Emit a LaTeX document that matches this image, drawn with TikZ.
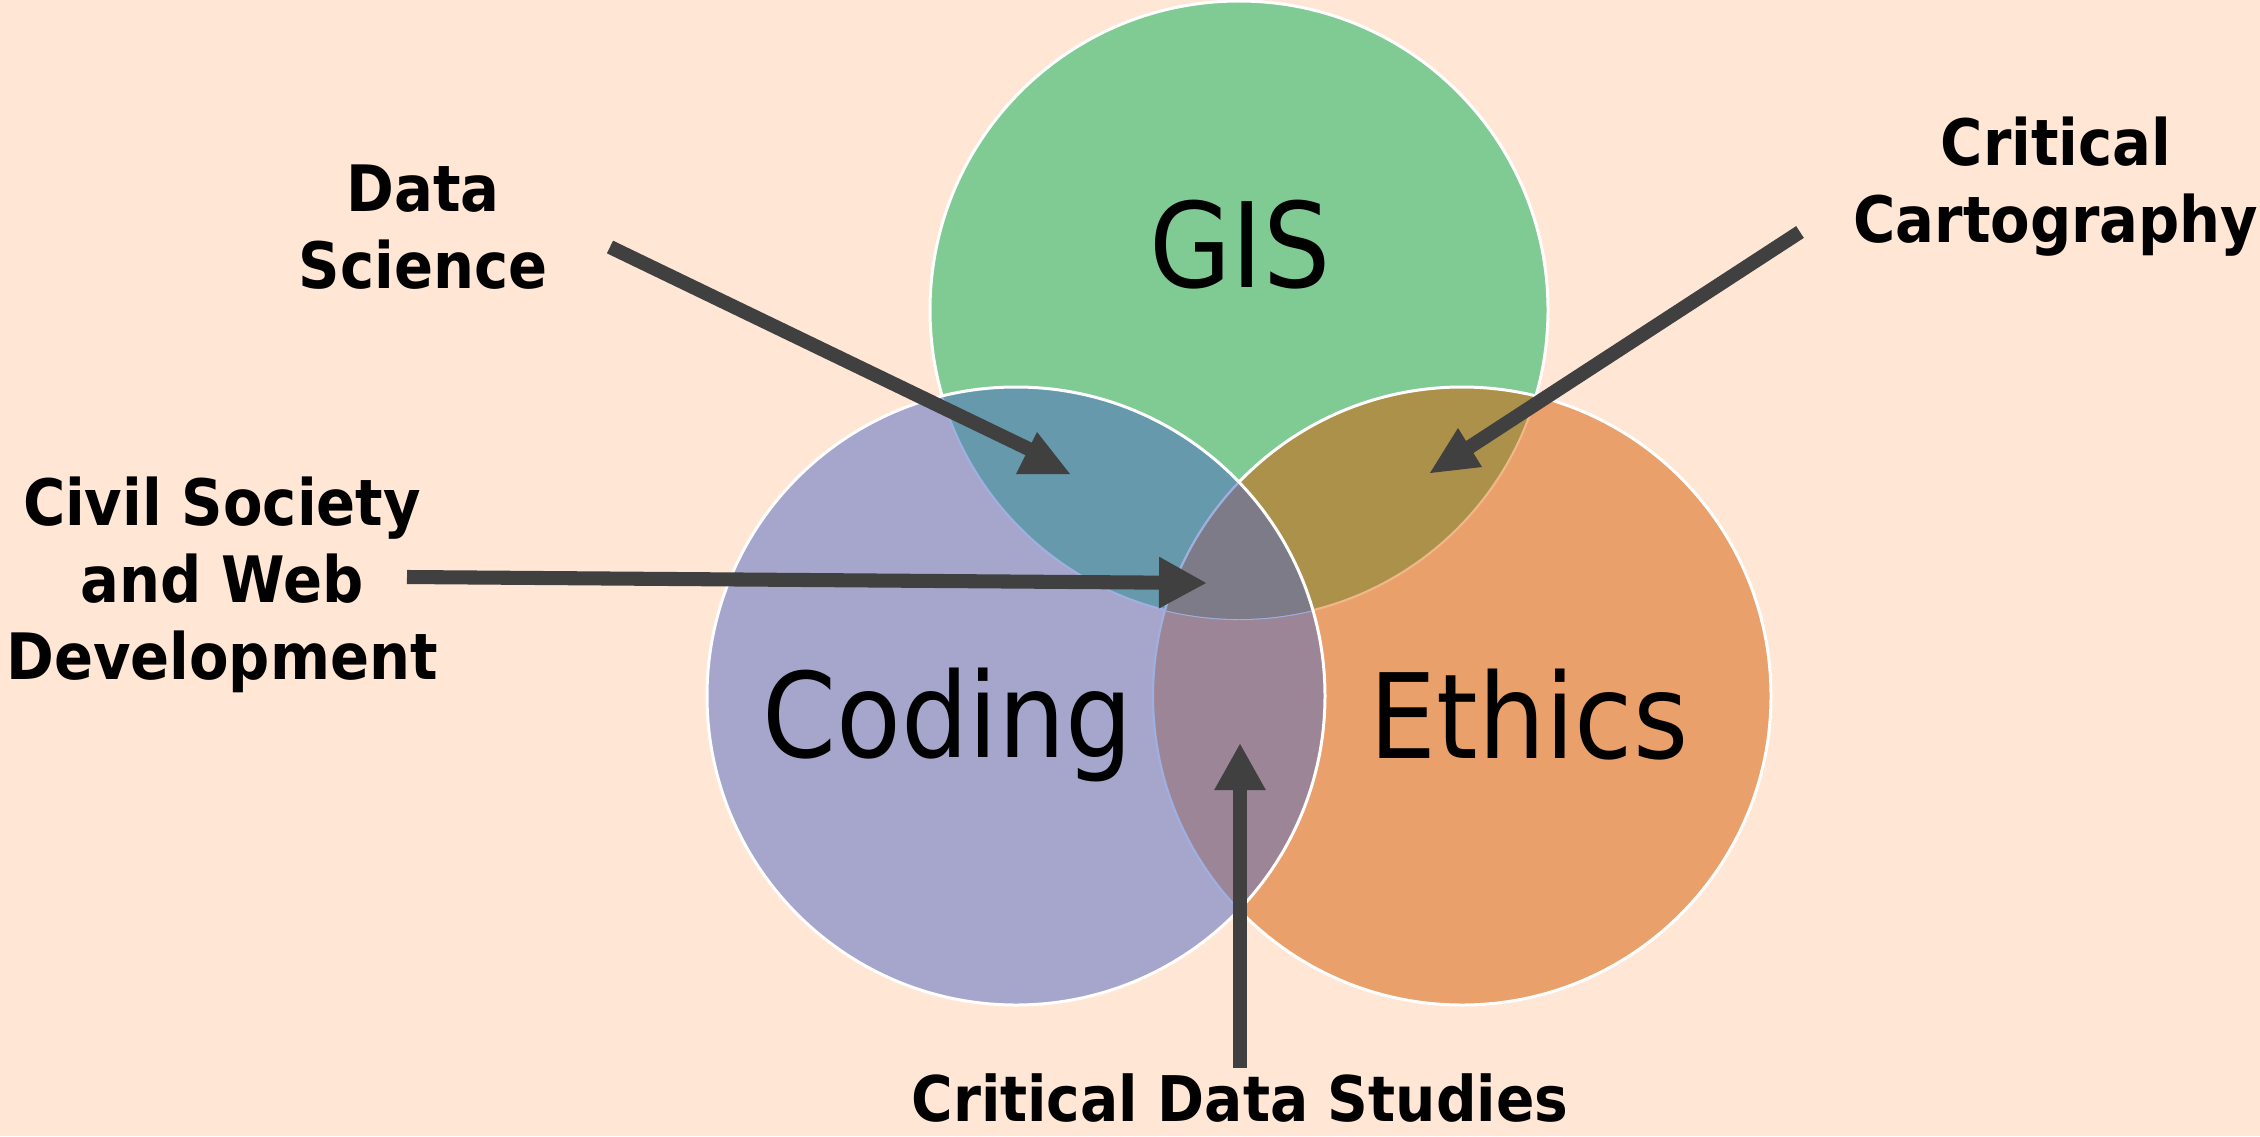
\documentclass[tikz,border=0pt]{standalone}
\usepackage{fontspec}
\setmainfont{DejaVu Sans Condensed}
\usetikzlibrary{arrows.meta}
\definecolor{bgpeach}{HTML}{FFE6D5}
\definecolor{gisgreen}{HTML}{80CB93}
\definecolor{codingblue}{HTML}{A6A6CC}
\definecolor{ethicsorange}{HTML}{EAA06A}
\definecolor{giscoding}{HTML}{6699AC}
\definecolor{gisethics}{HTML}{AC914A}
\definecolor{codingethics}{HTML}{9D8598}
\definecolor{allthree}{HTML}{7D7B87}
\definecolor{arrowgrey}{HTML}{404040}
\definecolor{faintblue}{HTML}{9FB0E0}
\definecolor{faintorange}{HTML}{F0B888}

\newcommand{\gisdisc}{(1239,310) circle[radius=309]}
\newcommand{\codingdisc}{(1016,696) circle[radius=309]}
\newcommand{\ethicsdisc}{(1462,696) circle[radius=309]}

\begin{document}
\begin{tikzpicture}[x=0.01cm, y=-0.01cm,
    venn/.style={draw=white, line width=0.85pt},
    faint/.style={line width=0.6pt},
    shaft/.style={draw=arrowgrey, line width=4pt},
    headfill/.style={fill=arrowgrey},
    topic/.style={font=\fontsize{33.5pt}{40pt}\selectfont, inner sep=0pt},
    field/.style={font=\fontsize{18.2pt}{21.9pt}\selectfont\bfseries, align=center, inner sep=0pt}]
	\fill[bgpeach] (0,0) rectangle (2260,1136);
	\useasboundingbox (0,0) rectangle (2260,1136);

	% the three sets
	\fill[gisgreen] \gisdisc;
	\draw[venn] \gisdisc;
	\fill[ethicsorange] \ethicsdisc;
	\begin{scope}
		\clip \gisdisc;
		\fill[gisethics] \ethicsdisc;
	\end{scope}
	\begin{scope}
		\clip \ethicsdisc;
		\draw[faint, faintorange] \gisdisc;
	\end{scope}
	\draw[venn] \ethicsdisc;
	\fill[codingblue] \codingdisc;
	\begin{scope}
		\clip \codingdisc;
		\fill[giscoding] \gisdisc;
		\fill[codingethics] \ethicsdisc;
		\draw[faint, faintblue] \gisdisc \ethicsdisc;
		\clip \gisdisc;
		\fill[allthree] \ethicsdisc;
	\end{scope}
	\begin{scope}
		\clip \codingdisc;
		\clip \gisdisc;
		\draw[faint, faintblue] \ethicsdisc;
	\end{scope}
	\draw[venn] \codingdisc;

	\node[topic, anchor=base] (gis) at (1240,287) {GIS};
	\node[topic, anchor=base] (coding) at (948,757) {Coding};
	\node[topic, anchor=base] (ethics) at (1529,758) {Ethics};

	% labels round the diagram
	\node[field] (datasci) at (423,227) {Data\\Science};
	\node[field] (civil) at (222,585) {Civil Society\\and Web\\Development};
	\node[field] (critcarto) at (2056,187) {Critical\\Cartography};
	\node[anchor=base, inner sep=0pt, font=\fontsize{17.9pt}{21.9pt}\selectfont\bfseries] (critdata) at (1240,1121) {Critical Data Studies};

	\coordinate (dsfrom) at (610,247);
	\coordinate (dsto) at (1035,452);
	\coordinate (cvfrom) at (407,577);
	\coordinate (cvto) at (1207,583);
	\coordinate (ccfrom) at (1800,232);
	\coordinate (ccto) at (1462,452);
	\coordinate (cdfrom) at (1240,1068);
	\coordinate (cdto) at (1240,743);

	\draw[shaft] (dsfrom) -- (dsto);
	\fill[headfill] (1037,432) -- (1070,474) -- (1016,474) -- cycle;
	\draw[shaft] (ccfrom) -- (ccto);
	\fill[headfill] (1458,428) -- (1482,467) -- (1430,473) -- cycle;
	\draw[shaft, -{Triangle[length=0.48cm, width=0.48cm]}] (cvfrom) -- (cvto);
	\draw[shaft, -{Triangle[length=0.47cm, width=0.48cm]}] (cdfrom) -- (cdto);
\end{tikzpicture}
\end{document}
